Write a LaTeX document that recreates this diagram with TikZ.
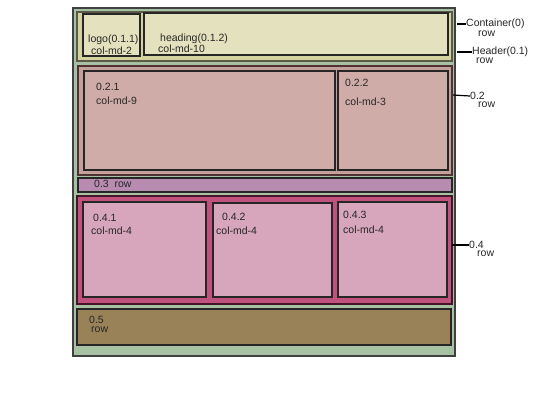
\documentclass[tikz,border=0pt]{standalone}
\usepackage{fontspec}
\setmainfont{Liberation Sans}
\begin{document}
\begin{tikzpicture}[x=1pt,y=-1pt,
  box/.style={draw=black!85,line width=1.6pt},
  lbl/.style={anchor=west,inner sep=0pt,font=\fontsize{10.5}{11}\selectfont,text=black!85},
  lead/.style={draw=black,line width=1.2pt}]
\useasboundingbox (0,0) rectangle (533,400);
\fill[white] (0,0) rectangle (533,400);
% container
\draw[box,fill={rgb,255:red,168;green,192;blue,164},draw=black!75] (73,8) rectangle (455,356);
\coordinate (cont) at (455,24);
% header
\draw[box,fill={rgb,255:red,214;green,210;blue,160},draw={rgb,255:red,90;green,90;blue,70}] (77,12) rectangle (452,61);
\draw[box,fill={rgb,255:red,228;green,226;blue,190}] (83,14) rectangle (140,56);
\draw[box,fill={rgb,255:red,228;green,226;blue,190}] (144,13) rectangle (448,55);
\node[lbl] (logo) at (88,40) {logo(0.1.1)};
\node[lbl] (logocol) at (91,51) {col-md-2};
\node[lbl] (head) at (160,39) {heading(0.1.2)};
\node[lbl] (headcol) at (158,49) {col-md-10};
% row 0.2
\draw[box,fill={rgb,255:red,196;green,160;blue,156},draw={rgb,255:red,80;green,50;blue,50}] (78,66) rectangle (452,175);
\draw[box,fill={rgb,255:red,208;green,172;blue,168}] (84,71) rectangle (335,170);
\draw[box,fill={rgb,255:red,208;green,172;blue,168}] (338,71) rectangle (448,170);
\node[lbl] at (96,87) {0.2.1};
\node[lbl] at (96,101) {col-md-9};
\node[lbl] at (345,83) {0.2.2};
\node[lbl] at (345,102) {col-md-3};
% row 0.3
\draw[box,line width=1.2pt,fill={rgb,255:red,184;green,140;blue,176}] (78,178) rectangle (452,192);
\node[lbl] at (94,184) {0.3\ \ row};
% row 0.4
\draw[box,fill={rgb,255:red,192;green,82;blue,126},draw={rgb,255:red,70;green,20;blue,40}] (77,196) rectangle (452,304);
\draw[box,fill={rgb,255:red,216;green,166;blue,188}] (83,202) rectangle (206,297);
\draw[box,fill={rgb,255:red,216;green,166;blue,188}] (213,203) rectangle (332,297);
\draw[box,fill={rgb,255:red,216;green,166;blue,188}] (338,202) rectangle (447,297);
\node[lbl] at (93,218) {0.4.1};
\node[lbl] at (91,231) {col-md-4};
\node[lbl] at (222,217) {0.4.2};
\node[lbl] at (216,231) {col-md-4};
\node[lbl] at (343,215) {0.4.3};
\node[lbl] at (343,230) {col-md-4};
% row 0.5
\draw[box,fill={rgb,255:red,154;green,130;blue,88}] (77,309) rectangle (451,345);
\node[lbl] at (89,320) {0.5};
\node[lbl] at (91,330) {row};
% right labels
\node[lbl] (tcont) at (466,24) {Container(0)};
\node[lbl] at (478,34) {row};
\draw[lead] (457,24) -- (tcont.west);
\node[lbl] (thead) at (472,52) {Header(0.1)};
\node[lbl] at (476,61) {row};
\draw[lead] (457,52) -- (thead.west);
\node[lbl] (t02) at (470,96) {0.2};
\node[lbl] at (478,105) {row};
\draw[lead] (453,95) -- (t02.west);
\node[lbl] (t04) at (469,245) {0.4};
\node[lbl] at (477,254) {row};
\draw[lead] (452,245) -- (t04.west);
\end{tikzpicture}
\end{document}
